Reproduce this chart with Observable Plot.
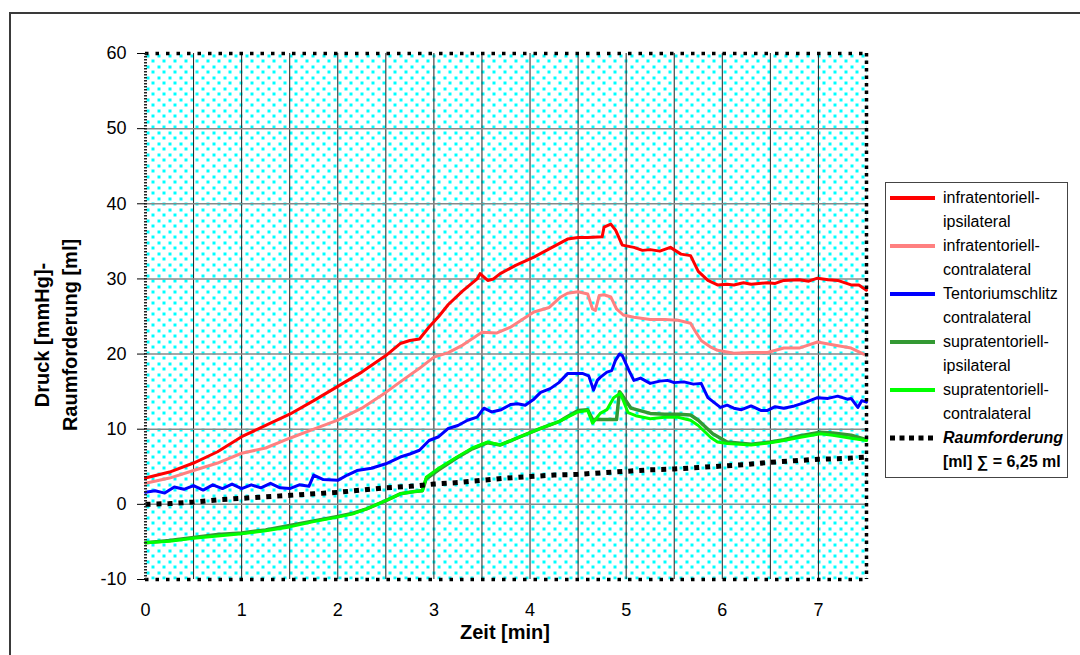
<!DOCTYPE html>
<html><head><meta charset="utf-8">
<script src="https://cdn.jsdelivr.net/npm/d3@7"></script>
<script src="https://cdn.jsdelivr.net/npm/@observablehq/plot@0.6"></script>
<style>
html,body{margin:0;padding:0;background:#fff;width:1080px;height:655px;overflow:hidden;font-family:"Liberation Sans",Arial,sans-serif;color:#000;}
#outer{position:absolute;left:9px;top:12px;width:1100px;height:700px;border:2px solid #3a3a3a;}
#chart{position:absolute;left:0;top:0;}
.ytitle{position:absolute;font-weight:bold;font-size:20px;white-space:nowrap;line-height:1;transform:translate(-50%,-50%) rotate(-90deg);}
#xtitle{position:absolute;left:505px;top:632px;font-weight:bold;font-size:20px;white-space:nowrap;line-height:1;transform:translate(-50%,-50%);}
#legend{position:absolute;left:885px;top:182px;width:181px;height:291px;padding-top:3px;border:1px solid #444;background:#fff;font-size:16px;}
.item{position:relative;height:48px;line-height:24px;padding-left:57px;white-space:nowrap;}
.item svg{position:absolute;left:4px;top:8px;}
</style>
</head><body>
<div id="outer"></div>
<div id="chart"></div>
<div class="ytitle" style="left:42px;top:335px;">Druck [mmHg]-</div>
<div class="ytitle" style="left:70px;top:335px;">Raumforderung [ml]</div>
<div id="xtitle">Zeit [min]</div>
<div id="legend"></div>
<script>
// ---- data (time in min, values in mmHg / ml) ----
const redT=[0,0.25,0.5,0.75,1,1.25,1.5,1.75,2,2.25,2.5,2.65,2.75,2.85,2.95,3.05,3.15,3.3,3.45,3.48,3.56,3.62,3.69,3.85,4.04,4.2,4.39,4.5,4.6,4.75,4.77,4.84,4.89,4.96,5.08,5.17,5.25,5.35,5.46,5.57,5.67,5.75,5.85,5.95,6.05,6.12,6.22,6.3,6.47,6.55,6.64,6.8,6.9,6.99,7.1,7.2,7.34,7.42,7.5];
const redV=[3.5,4.3,5.5,7.0,9.0,10.5,12.0,13.8,15.7,17.6,19.8,21.4,21.8,22.0,23.6,25.0,26.6,28.4,30.0,30.7,29.8,30.0,30.7,31.8,32.9,34.0,35.3,35.5,35.5,35.6,36.9,37.3,36.5,34.5,34.2,33.8,33.9,33.7,34.2,33.3,33.1,31.0,29.8,29.2,29.3,29.2,29.5,29.3,29.5,29.4,29.8,29.9,29.7,30.1,29.9,29.8,29.2,29.2,28.5];

const pinkT=[0,0.25,0.5,0.75,1,1.25,1.5,1.75,2,2.25,2.5,2.65,2.85,3,3.15,3.3,3.5,3.65,3.8,4.04,4.2,4.32,4.39,4.5,4.6,4.65,4.68,4.72,4.77,4.84,4.9,4.97,5.08,5.25,5.4,5.54,5.67,5.72,5.78,5.87,5.95,6.12,6.3,6.47,6.64,6.8,6.99,7.16,7.34,7.47];
const pinkV=[2.8,3.5,4.5,5.5,6.8,7.5,8.8,10.0,11.2,12.8,14.9,16.3,18.1,19.6,20.2,21.2,22.9,22.8,23.6,25.6,26.2,27.6,28.1,28.3,28.0,26.0,25.8,27.8,27.9,27.6,26.0,25.2,24.9,24.6,24.6,24.5,24.1,23.0,21.8,21.0,20.5,20.1,20.2,20.2,20.8,20.8,21.6,21.2,20.8,20.0];

const blueT=[0,0.1,0.2,0.3,0.4,0.5,0.6,0.7,0.8,0.9,1,1.1,1.2,1.3,1.4,1.5,1.6,1.7,1.75,1.85,2,2.1,2.2,2.35,2.5,2.65,2.75,2.85,2.95,3.05,3.15,3.25,3.35,3.45,3.52,3.6,3.7,3.8,3.87,3.95,4.04,4.11,4.21,4.3,4.39,4.44,4.55,4.61,4.64,4.66,4.7,4.73,4.8,4.85,4.89,4.93,4.96,5.03,5.08,5.15,5.25,5.35,5.43,5.5,5.6,5.7,5.78,5.85,5.92,5.98,6.05,6.12,6.2,6.3,6.4,6.47,6.55,6.64,6.75,6.85,6.99,7.1,7.2,7.3,7.34,7.41,7.45,7.5];
const blueV=[1.6,1.8,1.5,2.3,2.0,2.5,1.9,2.6,2.1,2.7,2.1,2.6,2.2,2.8,2.2,2.1,2.6,2.4,3.9,3.3,3.2,3.9,4.5,4.8,5.4,6.3,6.7,7.2,8.5,9.0,10.1,10.5,11.2,11.6,12.8,12.3,12.6,13.3,13.4,13.2,14.0,14.9,15.4,16.2,17.4,17.4,17.4,17.1,16.0,15.2,16.5,16.9,17.6,17.8,19.2,20.0,19.8,17.8,16.5,16.8,16.1,16.4,16.5,16.2,16.3,16.0,16.1,14.2,13.5,12.9,13.2,12.8,12.6,13.1,12.5,12.5,13.0,12.8,13.1,13.5,14.2,14.1,14.4,14.0,14.1,12.9,13.8,13.6];

const dkGreenT=[0,0.25,0.5,0.75,1,1.25,1.5,1.75,2,2.15,2.3,2.5,2.65,2.8,2.88,2.92,3.05,3.24,3.4,3.56,3.69,3.9,4.11,4.3,4.39,4.5,4.6,4.65,4.9,4.93,4.96,5.05,5.25,5.4,5.54,5.67,5.75,5.9,6.05,6.3,6.5,6.64,6.8,7.02,7.15,7.34,7.5];
const dkGreenV=[-5.1,-4.8,-4.4,-4.0,-3.8,-3.4,-2.8,-2.2,-1.6,-1.2,-0.6,0.5,1.4,1.7,1.8,3.4,4.6,6.2,7.4,8.2,7.9,9.0,10.1,11.0,11.7,12.5,12.6,11.3,11.3,15.0,14.5,12.8,12.1,12.0,12.0,11.9,11.2,9.4,8.3,8.0,8.3,8.6,9.1,9.6,9.5,9.2,8.6];

const greenT=[0,0.25,0.5,0.75,1,1.25,1.5,1.75,2,2.15,2.3,2.5,2.65,2.8,2.88,2.92,3.05,3.24,3.4,3.56,3.69,3.9,4.11,4.3,4.39,4.5,4.6,4.65,4.73,4.8,4.87,4.94,5.02,5.1,5.25,5.4,5.54,5.67,5.75,5.88,5.95,6.05,6.3,6.5,6.64,6.8,7.02,7.15,7.34,7.5];
const greenV=[-5.1,-4.9,-4.5,-4.2,-3.9,-3.5,-3.0,-2.3,-1.7,-1.3,-0.6,0.5,1.4,1.7,1.8,3.6,4.8,6.3,7.5,8.3,7.9,9.0,10.1,11.0,11.6,12.3,12.5,10.8,12.1,12.6,14.2,14.8,12.2,11.8,11.4,11.6,11.6,11.2,10.5,8.9,8.3,8.1,7.9,8.2,8.5,8.9,9.4,9.2,8.8,8.5];

const massT=[0,0.25,0.5,0.75,1,1.25,1.5,1.75,2,2.25,2.5,2.75,3,3.25,3.5,3.75,4,4.25,4.5,4.75,5,5.25,5.5,5.75,6,6.25,6.5,6.75,7,7.25,7.5];
const massV=[0,0.1,0.3,0.6,0.8,1.0,1.2,1.4,1.6,1.9,2.2,2.4,2.7,2.9,3.2,3.5,3.7,3.9,4.0,4.2,4.4,4.6,4.7,4.9,5.1,5.3,5.6,5.8,6.0,6.1,6.3];

const xTicks=[0,1,2,3,4,5,6,7];
const yTicks=[-10,0,10,20,30,40,50,60];
const gridX=[0.5,1,1.5,2,2.5,3,3.5,4,4.5,5,5.5,6,6.5,7];
const gridY=[0,10,20,30,40,50];

const legendLine1=["infratentoriell-","infratentoriell-","Tentoriumschlitz","supratentoriell-","supratentoriell-","Raumforderung"];
const legendLine2=["ipsilateral","contralateral","contralateral","ipsilateral","contralateral","[ml] \u2211 = 6,25 ml"];

// ---- styles ----
const series=[
  {t:redT,v:redV,color:"#FF0000",dash:null,w:3},
  {t:pinkT,v:pinkV,color:"#FF8080",dash:null,w:3},
  {t:blueT,v:blueV,color:"#0000FF",dash:null,w:3},
  {t:dkGreenT,v:dkGreenV,color:"#339933",dash:null,w:3.5},
  {t:greenT,v:greenV,color:"#00FF00",dash:null,w:3},
  {t:massT,v:massV,color:"#000000",dash:"5,6",w:5}
];
const toRows=s=>s.t.map((t,i)=>({t,v:s.v[i]}));

const lineMarks=series.map(s=>Plot.line(toRows(s),{x:"t",y:"v",stroke:s.color,strokeWidth:s.w,strokeDasharray:s.dash,strokeLinejoin:"round",strokeLinecap:s.dash?"butt":"round"}));

const plot=Plot.plot({
  width:880,height:655,
  marginLeft:145,marginRight:14,marginTop:53,marginBottom:76,
  x:{domain:[0,7.5]},
  y:{domain:[-10,60]},
  style:{fontFamily:'"Liberation Sans", Arial, sans-serif',fontSize:"18px",background:"transparent",color:"#000",overflow:"visible"},
  marks:[
    Plot.frame({fill:"url(#dots)",stroke:null}),
    Plot.ruleX(gridX,{stroke:"#222",strokeWidth:1}),
    Plot.ruleY(gridY,{stroke:"#888",strokeWidth:1.5}),
    ...lineMarks,
    Plot.ruleY([60,-10],{stroke:"#000",strokeWidth:3.5,strokeDasharray:"3.5,7"}),
    Plot.ruleX([7.5],{stroke:"#000",strokeWidth:3.5,strokeDasharray:"3.5,4"}),
    Plot.ruleX([0],{stroke:"#222",strokeWidth:3,strokeDasharray:"1.5,1.5"}),
    Plot.axisY({ticks:yTicks,tickFormat:d=>String(d),tickSize:8,tickPadding:11,fontSize:18,label:null}),
    Plot.axisX({ticks:xTicks,tickFormat:d=>String(d),tickSize:0,tickPadding:24,fontSize:18,label:null})
  ]
});
const svg=d3.select(plot);
const defs=svg.insert("defs",":first-child");
const pat=defs.append("pattern").attr("id","dots").attr("patternUnits","userSpaceOnUse")
  .attr("x",145).attr("y",53).attr("width",11).attr("height",11);
pat.append("rect").attr("width",11).attr("height",11).attr("fill","#fff");
pat.append("rect").attr("x",1).attr("y",1).attr("width",3).attr("height",3).attr("fill","#00FFFF");
pat.append("rect").attr("x",6).attr("y",6).attr("width",3).attr("height",3).attr("fill","#00FFFF");
document.getElementById("chart").appendChild(plot);

// ---- legend ----
const leg=d3.select("#legend");
series.forEach((s,i)=>{
  const it=leg.append("div").attr("class","item");
  const sw=it.append("svg").attr("width",45).attr("height",8);
  sw.append("line").attr("x1",0).attr("x2",45).attr("y1",4).attr("y2",4)
    .attr("stroke",s.color).attr("stroke-width",s.dash?5:4).attr("stroke-dasharray",s.dash?"5,4.5":null);
  const l1=it.append("div").text(legendLine1[i]);
  const l2=it.append("div").text(legendLine2[i]);
  if(s.dash){l1.style("font-weight","bold").style("font-style","italic");l2.style("font-weight","bold");}
});
</script>
</body></html>
